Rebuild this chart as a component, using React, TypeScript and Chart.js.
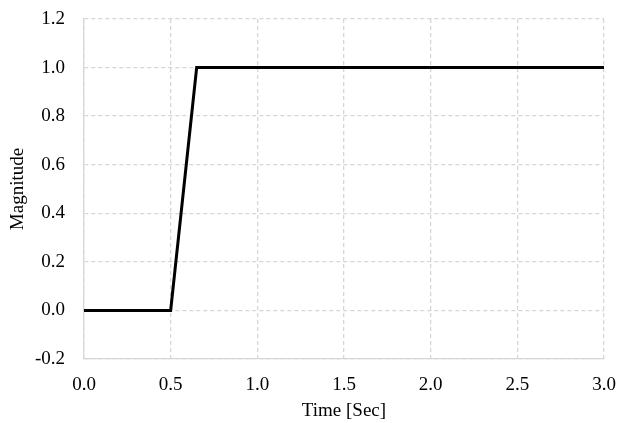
import React, { useEffect, useRef } from "react";
import { Chart, registerables } from "chart.js";

Chart.register(...registerables);

const times = [0, 0.5, 0.65, 3];
const magnitudes = [0, 0, 1, 1];
const xTicks = [0, 0.5, 1, 1.5, 2, 2.5, 3];
const yTicks = [-0.2, 0, 0.2, 0.4, 0.6, 0.8, 1.0, 1.2];

const zeroPad = (s: any) => {
  s.paddingTop = 0;
  s.paddingBottom = 0;
  s.paddingLeft = 0;
  s.paddingRight = 0;
};

export default function App() {
  const ref = useRef<HTMLCanvasElement | null>(null);
  useEffect(() => {
    if (!ref.current) return;
    const gridColor = "#d6d6d6";
    const font = { family: "'Liberation Serif', 'Times New Roman', serif", size: 19 };
    const chart = new Chart(ref.current, {
      type: "scatter",
      data: {
        datasets: [
          {
            data: times.map((t, i) => ({ x: t, y: magnitudes[i] })),
            showLine: true,
            borderColor: "#000",
            borderWidth: 3,
            pointRadius: 0,
            tension: 0,
            fill: false,
          },
        ],
      },
      options: {
        animation: false,
        responsive: false,
        maintainAspectRatio: false,
        layout: { padding: { top: 19, right: 16, left: 0, bottom: 0 } },
        plugins: { legend: { display: false }, tooltip: { enabled: false } },
        scales: {
          x: {
            type: "linear",
            min: 0,
            max: 3,
            afterBuildTicks: (s: any) => {
              s.ticks = xTicks.map((v) => ({ value: v }));
            },
            afterFit: (s: any) => {
              s.height = 64;
              zeroPad(s);
            },
            ticks: {
              font,
              color: "#000",
              padding: 15,
              callback: (v: any) => Number(v).toFixed(1),
            },
            grid: { color: gridColor, drawTicks: false, lineWidth: 1.3 },
            border: { display: true, color: gridColor, dash: [4, 3], width: 1.3 },
            title: {
              display: true,
              text: "Time [Sec]",
              font,
              color: "#000",
              padding: { top: 0, bottom: 1 },
            },
          },
          y: {
            type: "linear",
            min: -0.2,
            max: 1.2,
            afterBuildTicks: (s: any) => {
              s.ticks = yTicks.map((v) => ({ value: v }));
            },
            afterFit: (s: any) => {
              s.width = 84;
              zeroPad(s);
            },
            ticks: {
              font,
              color: "#000",
              padding: 19,
              callback: (v: any) => Number(v).toFixed(1),
            },
            grid: { color: gridColor, drawTicks: false, lineWidth: 1.3 },
            border: { display: true, color: gridColor, dash: [4, 3], width: 1.3 },
            title: {
              display: true,
              text: "Magnitude",
              font,
              color: "#000",
              padding: { top: 7, bottom: 0 },
            },
          },
        },
      },
    } as any);
    return () => chart.destroy();
  }, []);
  return (
    <div style={{ position: "fixed", left: 0, top: 0, width: 620, height: 423, background: "#fff" }}>
      <canvas ref={ref} width={620} height={423} style={{ width: 620, height: 423 }} />
    </div>
  );
}
